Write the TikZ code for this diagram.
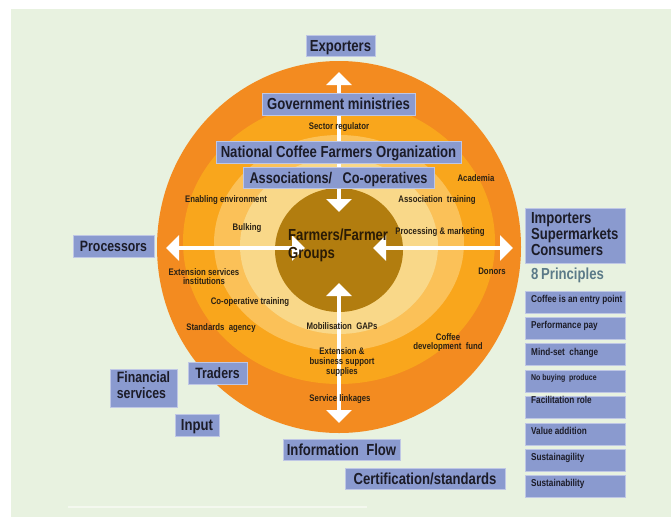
\documentclass[tikz,border=0pt]{standalone}
\usepackage{fontspec}
\setmainfont[FakeStretch=0.82]{Liberation Sans}
\usetikzlibrary{arrows.meta}
\definecolor{bg}{HTML}{E8F2E0}
\definecolor{ringA}{HTML}{F38B20}
\definecolor{ringB}{HTML}{F9A61C}
\definecolor{ringC}{HTML}{FBC158}
\definecolor{ringD}{HTML}{F9D889}
\definecolor{core}{HTML}{B27D0F}
\definecolor{boxc}{HTML}{8A9ACF}
\definecolor{boxtxt}{HTML}{1C1C28}
\definecolor{ringtxt}{HTML}{2A2114}
\definecolor{coretxt}{HTML}{2A1B05}
\definecolor{prinhead}{HTML}{5B7A88}
\definecolor{faint}{HTML}{F4F8EF}
\newcommand\fsBig{\fontsize{16pt}{16pt}\selectfont\bfseries}
\newcommand\fsMid{\fontsize{15pt}{16pt}\selectfont\bfseries}
\newcommand\fsRing{\fontsize{9.5pt}{9.7pt}\selectfont\bfseries}
\newcommand\fsPrin{\fontsize{10pt}{10pt}\selectfont\bfseries}
\newcommand\fsPrinS{\fontsize{8.5pt}{8.5pt}\selectfont\bfseries}
\begin{document}
\begin{tikzpicture}[x=1pt,y=-1pt,
  box/.style={fill=boxc, draw=boxc!55!white, line width=0.7pt, inner sep=0pt,
    text=boxtxt, font=\fsBig, text height=11.5pt, text depth=0pt},
  rtext/.style={text=ringtxt, font=\fsRing, inner sep=0pt, anchor=base},
  rmulti/.style={text=ringtxt, font=\fsRing, inner sep=0pt, align=center},
  prin/.style={text=boxtxt, font=\fsPrin, inner sep=0pt, anchor=base west},
  flow/.style={draw=white, line width=4pt,
    {Triangle[width=25pt,length=13pt]}-{Triangle[width=25pt,length=13pt]}}
]
\useasboundingbox (0,0) rectangle (671,517);
\fill[white] (0,0) rectangle (671,517);
\fill[bg] (11,9) rectangle (671,517);
\draw[faint, line width=1.5pt] (68,507) -- (367,507);

% rings
\fill[ringA] (339,247) ellipse [x radius=182pt, y radius=186pt];
\fill[ringB] (339,242) ellipse [x radius=156pt, y radius=142pt];
\fill[ringC] (339,243) ellipse [x radius=125pt, y radius=108pt];
\fill[ringD] (339,246) ellipse [x radius=99pt, y radius=88pt];
\fill[core] (339,250) ellipse [x radius=64pt, y radius=62pt];

% arrow end points
\coordinate (tU) at (339,72);
\coordinate (tD) at (339,212);
\coordinate (lL) at (166,248);
\coordinate (lR) at (305,248);
\coordinate (rL) at (373,248);
\coordinate (rR) at (513,248);
\coordinate (bU) at (339,283);
\coordinate (bD) at (339,423);
\draw[flow] (tU) -- (tD);
\draw[flow] (lL) -- (lR);
\draw[flow] (rL) -- (rR);
\draw[flow] (bU) -- (bD);

% boxes around the circle
\node[box, minimum width=69pt, minimum height=21pt] (exp) at (340.5,45.5) {Exporters};
\node[box, minimum width=153pt, minimum height=22pt] (gov) at (338.5,104) {Government ministries};
\node[box, minimum width=245pt, minimum height=22pt] (ncfo) at (338.5,152) {National Coffee Farmers Organization};
\node[box, minimum width=191pt, minimum height=21pt, font=\fontsize{15.5pt}{16pt}\selectfont\bfseries] (assoc) at (338.5,177.5) {Associations/\ \ \ Co-operatives};
\node[box, minimum width=81pt, minimum height=22pt, font=\fsMid] (proc) at (113.5,246) {Processors};
\node[box, minimum width=59pt, minimum height=22pt, font=\fsMid] (trad) at (217.5,373) {Traders};
\node[box, minimum width=67pt, minimum height=38pt, font=\fsMid, align=left,
  text height=27.5pt, text depth=6.5pt] (fin) at (143.5,388) {Financial\\services};
\node[box, minimum width=44pt, minimum height=22pt] (inp) at (197,425) {Input};
\node[box, minimum width=117pt, minimum height=21pt] (info) at (341.5,449.5) {Information\ \ Flow};
\node[box, minimum width=160pt, minimum height=21pt] (cert) at (425,478.5) {Certification/standards};

% core text
\node[text=coretxt, font=\fontsize{16pt}{18pt}\selectfont\bfseries, inner sep=0pt,
  anchor=north west, align=left, text height=29.5pt, text depth=0pt] (farm) at (288,229.2) {Farmers/Farmer\\Groups};

% ring texts
\node[rtext] (sreg) at (339,129.4) {Sector regulator};
\node[rtext] (acad) at (476,181.4) {Academia};
\node[rtext] (enab) at (226,202.4) {Enabling environment};
\node[rtext] (atrain) at (437,202.4) {Association\ \ training};
\node[rtext] (bulk) at (247,230.4) {Bulking};
\node[rtext] (procm) at (440,234.4) {Processing \& marketing};
\node[rmulti] (ext) at (204,276.5) {Extension services\\institutions};
\node[rtext] (cotr) at (250,304.4) {Co-operative training};
\node[rtext] (stag) at (221,330.4) {Standards\ \ agency};
\node[rtext] (mob) at (342,329.4) {Mobilisation\ \ GAPs};
\node[rmulti] (extb) at (342,362) {Extension \&\\business support\\supplies};
\node[rtext] (serv) at (340,401.4) {Service linkages};
\node[rmulti] (cdf) at (448,342.5) {Coffee\\development\ \ fund};
\node[rtext] (don) at (492,274.4) {Donors};

% right column
\node[box, minimum width=100pt, minimum height=55pt, align=left, text width=88pt,
  text depth=36.5pt] (imp) at (575,235.5) {Importers\\Supermarkets\\Consumers};
\node[text=prinhead, font=\fsBig, inner sep=0pt, anchor=base west] (eight) at (531,279.7) {8\,Principles};

\node[box, minimum width=100pt, minimum height=22pt] (p1) at (575,302) {};
\node[box, minimum width=100pt, minimum height=22pt] (p2) at (575,328) {};
\node[box, minimum width=100pt, minimum height=22pt] (p3) at (575,354) {};
\node[box, minimum width=100pt, minimum height=22pt] (p4) at (575,381) {};
\node[box, minimum width=100pt, minimum height=22pt] (p5) at (575,407) {};
\node[box, minimum width=100pt, minimum height=22pt] (p6) at (575,434) {};
\node[box, minimum width=100pt, minimum height=22pt] (p7) at (575,460) {};
\node[box, minimum width=100pt, minimum height=22pt] (p8) at (575,486) {};

\node[prin] (t1) at (531,302.6) {Coffee is an entry point};
\node[prin] (t2) at (531,328.6) {Performance pay};
\node[prin] (t3) at (531,355.6) {Mind-set\ \ change};
\node[prin, font=\fsPrinS] (t4) at (531,380) {No buying\ \ produce};
\node[prin] (t5) at (531,403.6) {Facilitation role};
\node[prin] (t6) at (531,434.6) {Value addition};
\node[prin] (t7) at (531,460.6) {Sustainagility};
\node[prin] (t8) at (531,486.6) {Sustainability};
\end{tikzpicture}
\end{document}
